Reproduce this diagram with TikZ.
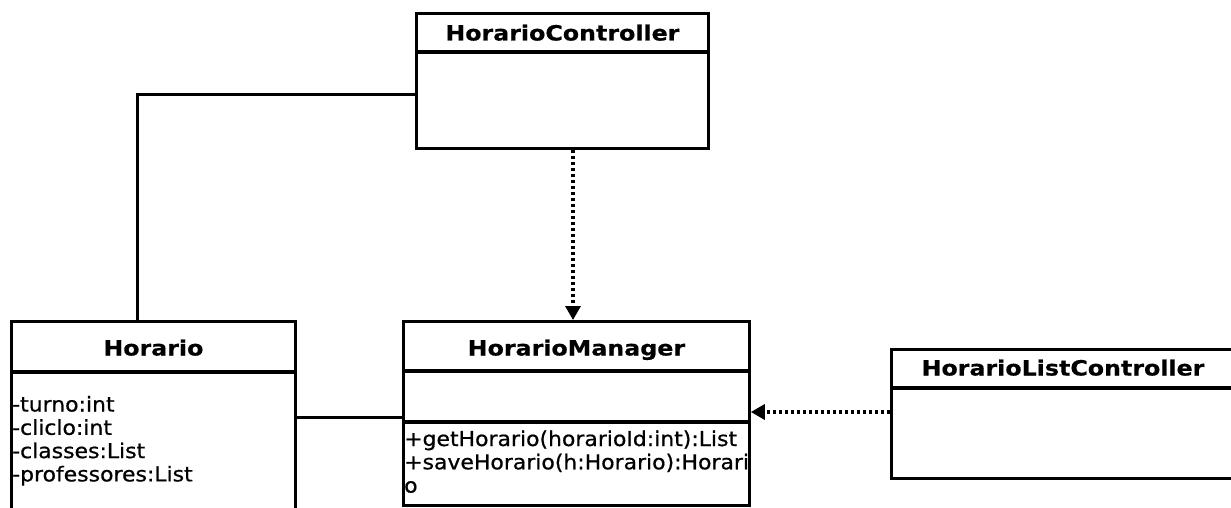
\documentclass[tikz,border=0pt]{standalone}
\usepackage{fontspec}
\setmainfont{DejaVu Sans}[FakeStretch=1.07, FakeBold=0.7, BoldFeatures={FakeStretch=1.13, FakeBold=0.5}]
\usetikzlibrary{arrows.meta,calc}
\begin{document}
\begin{tikzpicture}[x=1pt,y=-1pt,
  classbox/.style={draw, line width=2.8pt, rectangle, anchor=north west, inner sep=0pt},
  sepline/.style={line width=3.4pt},
  classname/.style={font=\fontsize{21}{25}\selectfont\bfseries, anchor=base, inner sep=0pt},
  member/.style={font=\fontsize{20.5}{23.3}\selectfont, anchor=base west, inner sep=0pt},
  assoc/.style={line width=3pt},
  depend/.style={line width=3.2pt, dash pattern=on 3pt off 3pt, -{Triangle[length=14pt,width=15pt]}},
]
\useasboundingbox (0,0) rectangle (1231,508);
\clip (0,0) rectangle (1231,508);

% HorarioController
\node[classbox, minimum width=292pt, minimum height=135pt] (hc) at (415,12) {};
\draw[sepline] ($(hc.north west)+(0,40)$) -- ($(hc.north east)+(0,40)$);
\node[classname] (hcname) at ($(hc.north)+(0,28.5)$) {HorarioController};

% Horario
\node[classbox, minimum width=284pt, minimum height=200pt] (hor) at (10,320) {};
\draw[sepline] ($(hor.north west)+(0,52)$) -- ($(hor.north east)+(0,52)$);
\node[classname] (horname) at ($(hor.north)+(0,35.5)$) {Horario};
\node[member] (a1) at ($(hor.north west)+(2,91.5)$) {-turno:int};
\node[member] (a2) at ($(hor.north west)+(2,114.8)$) {-cliclo:int};
\node[member] (a3) at ($(hor.north west)+(2,138.1)$) {-classes:List};
\node[member] (a4) at ($(hor.north west)+(2,161.4)$) {-professores:List};

% HorarioManager
\node[classbox, minimum width=346pt, minimum height=184pt] (hm) at (402,320) {};
\draw[sepline] ($(hm.north west)+(0,51)$) -- ($(hm.north east)+(0,51)$);
\draw[sepline] ($(hm.north west)+(0,102)$) -- ($(hm.north east)+(0,102)$);
\node[classname] (hmname) at ($(hm.north)+(0,35.5)$) {HorarioManager};
\node[member] (m1) at ($(hm.north west)+(2,126)$) {+getHorario(horarioId:int):List};
\node[member] (m2) at ($(hm.north west)+(2,149.3)$) {+saveHorario(h:Horario):Horari};
\node[member] (m3) at ($(hm.north west)+(2,172.6)$) {o};

% HorarioListController
\node[classbox, minimum width=360pt, minimum height=129pt] (hlc) at (890,348) {};
\draw[sepline] ($(hlc.north west)+(0,40)$) -- ($(hlc.north east)+(0,40)$);
\node[classname] (hlcname) at ($(hlc.north west)+(173,27.5)$) {HorarioListController};

% associations
\draw[assoc] ($(hor.north west)+(127,0)$) |- ($(hc.north west)+(0,83)$);
\draw[assoc] ($(hor.north east)+(0,97)$) -- ($(hm.north west)+(0,97)$);

% dependencies
\draw[depend] ($(hc.south west)+(158,0)$) -- ($(hm.north west)+(171,0)$);
\draw[depend] ($(hlc.north west)+(0,64)$) -- ($(hm.north east)+(0,92)$);
\end{tikzpicture}
\end{document}
